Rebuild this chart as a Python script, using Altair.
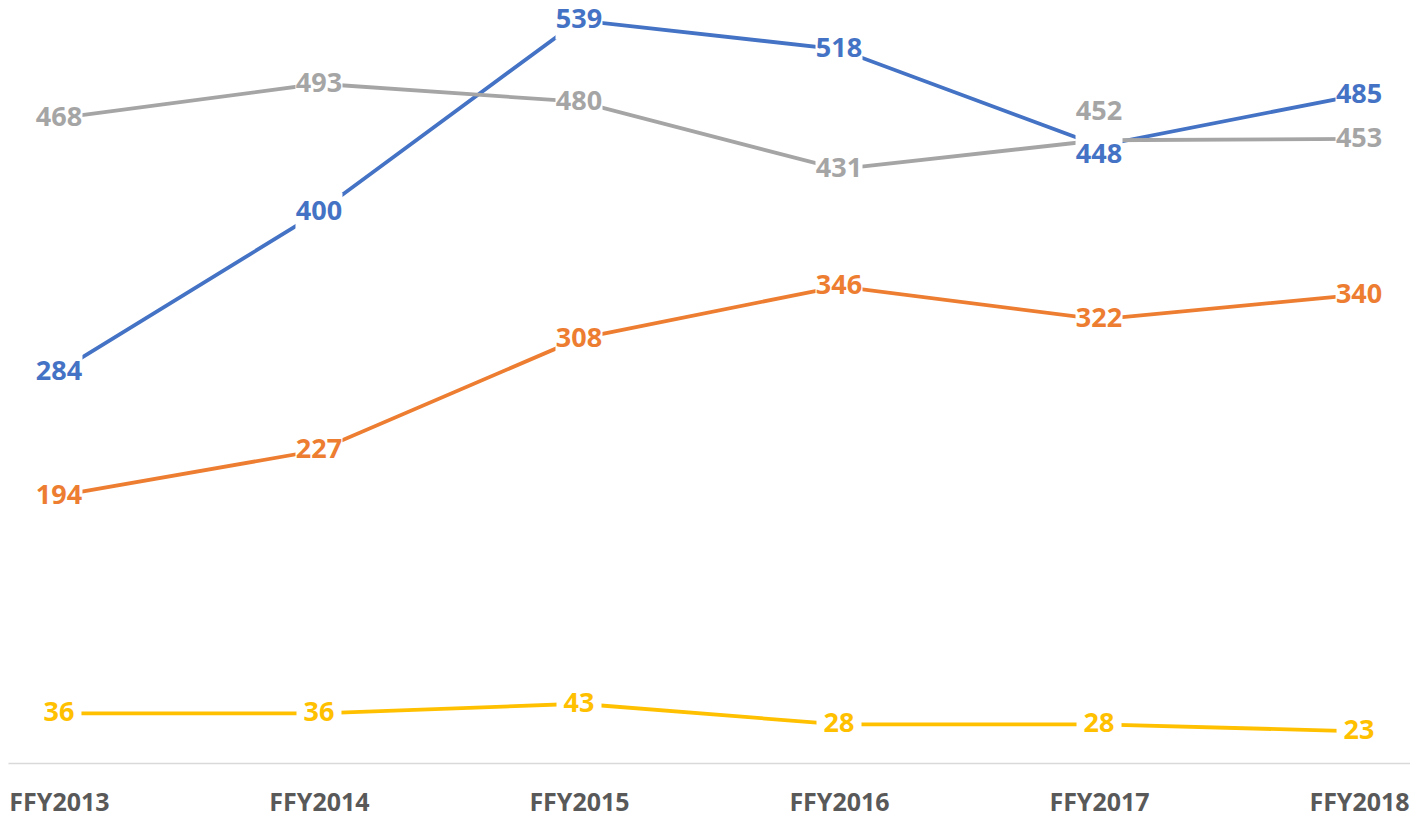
import altair as alt
import pandas as pd

# ---- data ----
years = ["FFY2013", "FFY2014", "FFY2015", "FFY2016", "FFY2017", "FFY2018"]
series_names = ["Series 1", "Series 2", "Series 3", "Series 4"]
blue_vals = [284, 400, 539, 518, 448, 485]
orange_vals = [194, 227, 308, 346, 322, 340]
gray_vals = [468, 493, 480, 431, 452, 453]
yellow_vals = [36, 36, 43, 28, 28, 23]
colors = ["#4472C4", "#ED7D31", "#A5A5A5", "#FFC000"]

rows = []
for name, vals in zip(series_names, [blue_vals, orange_vals, gray_vals, yellow_vals]):
    for yr, v in zip(years, vals):
        rows.append({"year": yr, "series": name, "value": v})
df = pd.DataFrame(rows)

FONT = "Open Sans"

x = alt.X(
    "year:N",
    sort=years,
    scale=alt.Scale(type="point", padding=0.196),
    axis=alt.Axis(
        title=None, labelAngle=0, ticks=False, grid=False,
        domainColor="#D9D9D9", domainWidth=1.5,
        labelFont=FONT, labelFontSize=25, labelFontWeight="bold",
        labelColor="#595959", labelPadding=27,
    ),
)
y = alt.Y("value:Q", scale=alt.Scale(domain=[0, 548], nice=False, zero=True), axis=None)
color = alt.Color("series:N", scale=alt.Scale(domain=series_names, range=colors), legend=None)

base = alt.Chart(df).encode(x=x, y=y)

lines = base.mark_line(strokeWidth=3.8).encode(color=color)

is_gray17 = "datum.series == 'Series 3' && datum.year == 'FFY2017'"
is_blue17 = "datum.series == 'Series 1' && datum.year == 'FFY2017'"
normal = f"!({is_gray17}) && !({is_blue17})"

boxes3 = base.mark_rect(width=47, height=38, color="white").transform_filter(
    f"{normal} && datum.value >= 100")
boxes2 = base.mark_rect(width=45, height=38, color="white").transform_filter(
    f"{normal} && datum.value < 100")
box_blue17 = base.mark_rect(width=47, height=40, color="white", yOffset=9).transform_filter(is_blue17)

txt_kw = dict(font=FONT, fontSize=27, fontWeight="bold", baseline="middle", align="center")
texts = base.mark_text(**txt_kw).encode(color=color, text="value:Q").transform_filter(normal)
txt_gray17 = base.mark_text(dy=-28, **txt_kw).encode(color=color, text="value:Q").transform_filter(is_gray17)
txt_blue17 = base.mark_text(dy=9, **txt_kw).encode(color=color, text="value:Q").transform_filter(is_blue17)

chart = alt.layer(
    lines, boxes3, boxes2, box_blue17, texts, txt_gray17, txt_blue17
).properties(
    width=1402, height=755,
    autosize=alt.AutoSizeParams(type="none"),
    padding={"left": 0, "top": 0, "right": 0, "bottom": 55},
    background="white",
).configure_view(stroke=None)

chart.save("out.html", embed_options={"renderer": "svg", "actions": False})
